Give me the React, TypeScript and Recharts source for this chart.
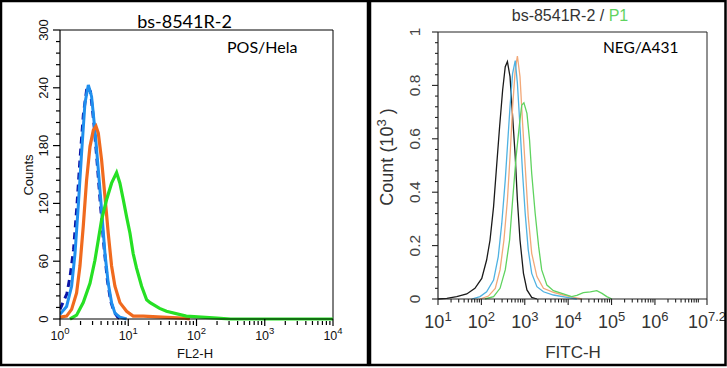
import React from "react";
import { LineChart, Line, XAxis, YAxis, ReferenceLine } from "recharts";

// ---- POS / Hela panel (FL2-H vs Counts) ----
const helaBlueX = [1, 1.25, 1.48, 1.66, 1.85, 2.07, 2.32, 2.6, 2.9, 3.25, 3.64, 4.07, 4.56, 5.09, 5.7, 6.38, 7.55, 9.46];
const helaBlueY = [5, 13, 34, 68, 117, 172, 224, 243, 231, 196, 155, 113, 68, 37, 17, 6, 2, 0];

const helaNavyX = [1, 1.12, 1.26, 1.41, 1.58, 1.76, 1.96, 2.2, 2.5, 2.8, 3.12, 3.48, 3.9, 4.4, 4.95, 5.55, 6.25, 7.0, 7.9];
const helaNavyY = [10, 18, 26, 45, 72, 115, 165, 212, 242, 236, 205, 165, 120, 76, 40, 18, 7, 2, 0];

const helaOrangeX = [1, 1.25, 1.48, 1.75, 1.96, 2.19, 2.45, 2.75, 3.08, 3.37, 3.64, 4.07, 4.56, 5.09, 5.7, 6.38, 7.55, 9.46, 11.8, 16.6, 31.6, 63, 80];
const helaOrangeY = [2, 3, 10, 27, 55, 96, 144, 179, 196, 200, 193, 165, 127, 89, 55, 34, 17, 8, 3, 3, 2, 1, 0];

const helaGreenX = [1.4, 1.75, 2.19, 2.75, 3.25, 3.64, 4.07, 4.82, 5.7, 6.75, 7.55, 8.45, 9.46, 10.6, 11.8, 13.2, 15.7, 18.6, 20.9, 28.8, 36.3, 70.8, 200, 316, 10000];
const helaGreenY = [0, 4, 17, 37, 61, 82, 103, 124, 141, 152, 141, 124, 106, 89, 68, 53, 34, 20, 17, 11, 8, 3, 1, 0, 0];

const helaDecades = [0, 1, 2, 3, 4];
const helaCountTicks = [0, 60, 120, 180, 240, 300];

// ---- NEG / A431 panel (FITC-H vs Count x10^3) ----
const a431BlackX = [10, 16, 27, 46, 71, 102, 132, 158, 191, 224, 263, 309, 355, 398, 457, 525, 603, 676, 776, 933, 1122, 1445, 1905];
const a431BlackY = [0, 0.0025, 0.009, 0.019, 0.04, 0.077, 0.146, 0.22, 0.346, 0.496, 0.645, 0.783, 0.87, 0.889, 0.833, 0.683, 0.533, 0.371, 0.221, 0.096, 0.034, 0.006, 0];

const a431BlueX = [60, 93, 132, 191, 245, 295, 355, 398, 457, 525, 603, 676, 776, 891, 1023, 1202, 1445, 1905, 2692, 4571, 9333, 15849];
const a431BlueY = [0, 0.009, 0.027, 0.071, 0.159, 0.283, 0.446, 0.57, 0.72, 0.845, 0.893, 0.808, 0.645, 0.47, 0.32, 0.184, 0.096, 0.046, 0.027, 0.015, 0.006, 0];

const a431OrangeX = [93, 145, 209, 269, 331, 398, 457, 525, 603, 676, 776, 891, 1023, 1202, 1445, 1905, 2692, 4571, 7762, 13183, 20893];
const a431OrangeY = [0, 0.011, 0.04, 0.109, 0.221, 0.371, 0.533, 0.72, 0.858, 0.91, 0.833, 0.658, 0.496, 0.308, 0.171, 0.084, 0.04, 0.025, 0.015, 0.006, 0];

const a431GreenX = [120, 191, 269, 355, 447, 525, 631, 759, 851, 955, 1122, 1288, 1445, 1738, 2089, 2455, 3236, 4571, 7762, 12023, 15849, 22387, 32359, 45709, 60256, 77625, 102329];
const a431GreenY = [0, 0.009, 0.04, 0.109, 0.221, 0.371, 0.533, 0.658, 0.726, 0.735, 0.695, 0.596, 0.47, 0.32, 0.196, 0.109, 0.052, 0.031, 0.019, 0.009, 0.014, 0.024, 0.027, 0.031, 0.021, 0.009, 0];

const a431Decades = [1, 2, 3, 4, 5, 6, 7.2];
const a431CountTicks = [0, 0.2, 0.4, 0.6, 0.8, 1];

const pts = (xs: number[], ys: number[]) => xs.map((x, i) => ({ x, y: ys[i] }));

// log axis ticks: every k*10^n between decades, majors labelled
function logTicks(lo: number, hi: number, extra: number[]) {
  const t: number[] = [];
  for (let n = lo; n < hi; n++) for (let k = 1; k < 10; k++) t.push(k * 10 ** n);
  return t.concat(extra);
}
const helaXTicks = logTicks(0, 4, [1e4]);
const a431XTicks = logTicks(1, 7, [1e7, 10 ** 7.2]);

const minorTicks = (top: number, step: number) => {
  const t: number[] = [];
  for (let v = 0; v <= top + 1e-9; v += step) t.push(+v.toFixed(4));
  return t;
};

const ARIAL = "'Liberation Sans', Arial, sans-serif";
const CALIBRI = "Lato, 'Open Sans', sans-serif";

const isMajorExp = (v: number, majors: number[]) => {
  const e = Math.log10(v);
  return majors.find((d) => Math.abs(d - e) < 1e-6);
};

function HelaXTick(p: any) {
  const v = p.payload.value;
  const m = isMajorExp(v, helaDecades);
  const major = m !== undefined;
  return (
    <g>
      <line x1={p.x} x2={p.x} y1={p.y + (major ? 0 : 2)} y2={p.y + (major ? 7 : 6)} stroke="#000" strokeWidth={1.2} />
      {major && (
        <text x={p.x} y={p.y + 21} textAnchor="middle" fontSize={12.5} fontFamily={ARIAL} fill="#111">
          10<tspan dy={-6} fontSize={9.5}>{m}</tspan>
        </text>
      )}
    </g>
  );
}

function HelaYTick(p: any) {
  const v = p.payload.value;
  const major = helaCountTicks.includes(v);
  const bx = p.x - 12;
  return (
    <g>
      <line x1={p.x - (major ? 7 : 4)} x2={p.x} y1={p.y} y2={p.y} stroke="#000" strokeWidth={1.2} />
      {major && (
        <text x={bx} y={p.y} transform={`rotate(-90 ${bx} ${p.y})`} textAnchor="middle" fontSize={13} fontFamily={ARIAL} fill="#111">
          {v}
        </text>
      )}
    </g>
  );
}

function A431XTick(p: any) {
  const v = p.payload.value;
  const m = isMajorExp(v, a431Decades);
  const major = m !== undefined;
  return (
    <g>
      <line x1={p.x} x2={p.x} y1={p.y} y2={p.y + (major ? 6 : 3.5)} stroke="#222" strokeWidth={1.1} />
      {major && (
        <text x={p.x} y={p.y + 29} textAnchor="middle" fontSize={18} fontFamily={ARIAL} fill="#333">
          10<tspan dy={-7} fontSize={13}>{m}</tspan>
        </text>
      )}
    </g>
  );
}

function A431YTick(p: any) {
  const v = p.payload.value;
  const major = a431CountTicks.some((t) => Math.abs(t - v) < 1e-6);
  const bx = p.x - 18;
  return (
    <g>
      <line x1={p.x - (major ? 6 : 3)} x2={p.x} y1={p.y} y2={p.y} stroke="#222" strokeWidth={1.1} />
      {major && (
        <text x={bx} y={p.y} transform={`rotate(-90 ${bx} ${p.y})`} textAnchor="middle" fontSize={15.5} fontFamily={ARIAL} fill="#444">
          {String(v)}
        </text>
      )}
    </g>
  );
}

export default function App() {
  return (
    <div style={{ position: "absolute", left: 0, top: 0, width: 727, height: 368, background: "#fff" }}>
      <div style={{ position: "absolute", left: 0, top: 0 }}>
        <LineChart width={369} height={367} margin={{ top: 30, right: 36, left: 0, bottom: 0 }}>
          <XAxis
            type="number"
            dataKey="x"
            scale="log"
            domain={[1, 10000]}
            allowDataOverflow
            ticks={helaXTicks}
            interval={0}
            tickSize={0}
            tickMargin={0}
            tickLine={false}
            height={48}
            axisLine={{ stroke: "#000", strokeWidth: 1.2 }}
            tick={HelaXTick}
          />
          <YAxis
            type="number"
            domain={[0, 300]}
            ticks={minorTicks(300, 12)}
            interval={0}
            tickSize={0}
            tickMargin={0}
            tickLine={false}
            width={60}
            axisLine={{ stroke: "#000", strokeWidth: 1.2 }}
            tick={HelaYTick}
          />
          <ReferenceLine y={300} stroke="#000" strokeWidth={1} />
          <ReferenceLine x={10000} stroke="#000" strokeWidth={1} />
          <Line data={pts(helaNavyX, helaNavyY)} dataKey="y" type="linear" stroke="#0a14a8" strokeWidth={3} strokeDasharray="7 5" dot={false} isAnimationActive={false} />
          <Line data={pts(helaBlueX, helaBlueY)} dataKey="y" type="linear" stroke="#1f8fee" strokeWidth={3} dot={false} isAnimationActive={false} />
          <Line data={pts(helaOrangeX, helaOrangeY)} dataKey="y" type="linear" stroke="#f06a1e" strokeWidth={3.2} dot={false} isAnimationActive={false} />
          <Line data={pts(helaGreenX, helaGreenY)} dataKey="y" type="linear" stroke="#26e024" strokeWidth={3.2} dot={false} isAnimationActive={false} />
        </LineChart>
      </div>

      <div style={{ position: "absolute", left: 369, top: 0 }}>
        <LineChart width={358} height={367} margin={{ top: 32, right: 20, left: 0, bottom: 0 }}>
          <XAxis
            type="number"
            dataKey="x"
            scale="log"
            domain={[10, 10 ** 7.2]}
            allowDataOverflow
            ticks={a431XTicks}
            interval={0}
            tickSize={0}
            tickMargin={0}
            tickLine={false}
            height={68}
            axisLine={{ stroke: "#222", strokeWidth: 1.2 }}
            tick={A431XTick}
          />
          <YAxis
            type="number"
            domain={[0, 1]}
            ticks={minorTicks(1, 0.04)}
            interval={0}
            tickSize={0}
            tickMargin={0}
            tickLine={false}
            width={69}
            axisLine={{ stroke: "#222", strokeWidth: 1.2 }}
            tick={A431YTick}
          />
          <ReferenceLine y={1} stroke="#222" strokeWidth={1} />
          <ReferenceLine x={10 ** 7.2} stroke="#222" strokeWidth={1} />
          <Line data={pts(a431BlackX, a431BlackY)} dataKey="y" type="linear" stroke="#1a1a1a" strokeWidth={1.3} dot={false} isAnimationActive={false} />
          <Line data={pts(a431OrangeX, a431OrangeY)} dataKey="y" type="linear" stroke="#f2a878" strokeWidth={1.3} dot={false} isAnimationActive={false} />
          <Line data={pts(a431BlueX, a431BlueY)} dataKey="y" type="linear" stroke="#4fb2e2" strokeWidth={1.3} dot={false} isAnimationActive={false} />
          <Line data={pts(a431GreenX, a431GreenY)} dataKey="y" type="linear" stroke="#5fd35f" strokeWidth={1.3} dot={false} isAnimationActive={false} />
        </LineChart>
      </div>

      <svg width={727} height={368} style={{ position: "absolute", left: 0, top: 0, pointerEvents: "none" }}>
        <text x={184.5} y={28} textAnchor="middle" fontSize={18} fontFamily={CALIBRI} fill="#000">bs-8541R-2</text>
        <text x={227} y={53} fontSize={16} fontFamily={CALIBRI} fill="#000">POS/Hela</text>
        <text x={33} y={175} transform="rotate(-90 33 175)" textAnchor="middle" fontSize={13} fontFamily={ARIAL} fill="#111">Counts</text>
        <text x={195} y={358} textAnchor="middle" fontSize={13} fontFamily={ARIAL} fill="#111">FL2-H</text>

        <text x={570} y={21} textAnchor="middle" fontSize={16} fontFamily={ARIAL} fill="#333">
          bs-8541R-2 /<tspan fill="#5fd35f"> P1</tspan>
        </text>
        <text x={603} y={53} fontSize={15.5} fontFamily={CALIBRI} fill="#000">NEG/A431</text>
        <text x={393} y={157} transform="rotate(-90 393 157)" textAnchor="middle" fontSize={18} fontFamily={ARIAL} fill="#333">
          Count (10<tspan dy={-7} fontSize={13}>3</tspan><tspan dy={7}> )</tspan>
        </text>
        <text x={573} y={358} textAnchor="middle" fontSize={17} fontFamily={ARIAL} fill="#333">FITC-H</text>

        <rect x={1} y={1} width={367} height={364} fill="none" stroke="#000" strokeWidth={2.5} />
        <rect x={370} y={1} width={355.5} height={364} fill="none" stroke="#000" strokeWidth={2.5} />
      </svg>
    </div>
  );
}
